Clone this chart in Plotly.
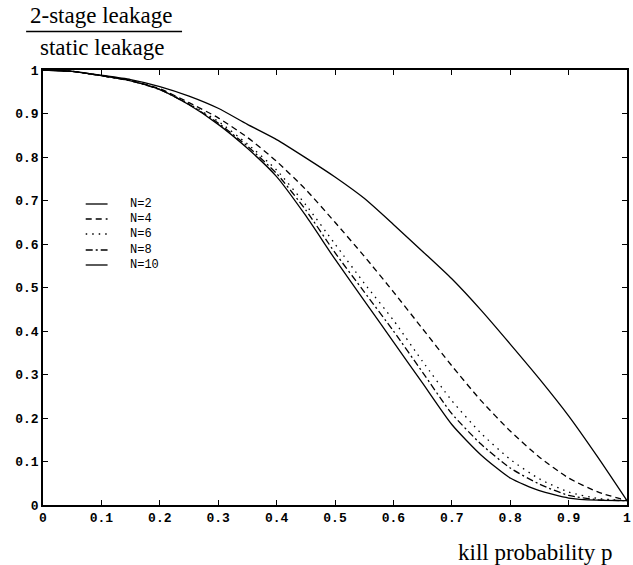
import plotly.graph_objects as go

# kill probability p
p = [0, 0.05, 0.1, 0.15, 0.2, 0.25, 0.3, 0.35, 0.4, 0.45, 0.5, 0.55, 0.6,
     0.65, 0.7, 0.75, 0.8, 0.85, 0.9, 0.95, 1.0]

n2 = [1, 0.997, 0.988, 0.978, 0.962, 0.94, 0.912, 0.875, 0.84, 0.798, 0.754,
      0.705, 0.645, 0.583, 0.52, 0.448, 0.37, 0.29, 0.205, 0.11, 0.01]
n4 = [1, 0.997, 0.987, 0.976, 0.957, 0.925, 0.89, 0.845, 0.79, 0.725, 0.65,
      0.572, 0.49, 0.405, 0.32, 0.24, 0.17, 0.11, 0.062, 0.03, 0.01]
n6 = [1, 0.997, 0.987, 0.975, 0.956, 0.922, 0.882, 0.83, 0.77, 0.69, 0.6,
      0.51, 0.425, 0.33, 0.24, 0.165, 0.105, 0.06, 0.03, 0.015, 0.01]
n8 = [1, 0.997, 0.987, 0.975, 0.955, 0.921, 0.878, 0.825, 0.762, 0.678, 0.58,
      0.49, 0.40, 0.305, 0.21, 0.14, 0.085, 0.048, 0.022, 0.012, 0.01]
n10 = [1, 0.997, 0.987, 0.975, 0.955, 0.92, 0.875, 0.82, 0.755, 0.665, 0.565,
       0.47, 0.375, 0.28, 0.185, 0.115, 0.062, 0.033, 0.016, 0.011, 0.01]

series_names = ["N=2", "N=4", "N=6", "N=8", "N=10"]
series_values = [n2, n4, n6, n8, n10]
dashes = ["solid", "6px,4px", "1.5px,5px", "7px,3px,2px,3px", "solid"]

tick_vals = [0, 0.1, 0.2, 0.3, 0.4, 0.5, 0.6, 0.7, 0.8, 0.9, 1]
tick_text = ["0", "0.1", "0.2", "0.3", "0.4", "0.5", "0.6", "0.7", "0.8", "0.9", "1"]

fig = go.Figure()
for name, vals, d in zip(series_names, series_values, dashes):
    fig.add_trace(go.Scatter(
        x=p, y=vals, mode="lines", name=name,
        line=dict(color="black", width=1.3, dash=d,
                  shape="spline", smoothing=0.6),
        showlegend=False))

axis_common = dict(
    showgrid=False, zeroline=False, showline=True, linecolor="black",
    linewidth=1.6, mirror="ticks", ticks="inside", ticklen=5,
    tickcolor="black", tickwidth=1,
    tickfont=dict(family="Liberation Mono", size=13, color="black", weight="bold"),
    tickvals=tick_vals, ticktext=tick_text, ticklabeloverflow="allow",
)
fig.update_xaxes(range=[0, 1], **axis_common)
fig.update_yaxes(range=[0, 1], **axis_common)

# manual legend (paper coords)
W, H = 633, 565
L, R, T, B = 43, 2, 70, 60
pw, ph = W - L - R, H - T - B
def px(xp):
    return (xp - L) / pw
def py(yp):
    return (H - B - yp) / ph

leg_y = [204, 219, 234, 250, 265]
shapes = []
annotations = []
for name, d, yy in zip(series_names, dashes, leg_y):
    shapes.append(dict(type="line", xref="paper", yref="paper",
                       x0=px(86), x1=px(108), y0=py(yy), y1=py(yy),
                       line=dict(color="black", width=1.3, dash=d)))
    annotations.append(dict(xref="paper", yref="paper", x=px(129), y=py(yy),
                            text=name, showarrow=False, xanchor="left",
                            yanchor="middle",
                            font=dict(family="Liberation Mono", size=12, color="black")))

# title fraction
annotations.append(dict(xref="paper", yref="paper", x=px(101), y=py(16),
                        text="2-stage leakage", showarrow=False,
                        xanchor="center", yanchor="middle",
                        font=dict(family="Liberation Serif", size=23, color="black")))
annotations.append(dict(xref="paper", yref="paper", x=px(103), y=py(47),
                        text="static leakage", showarrow=False,
                        xanchor="center", yanchor="middle",
                        font=dict(family="Liberation Serif", size=23, color="black")))
shapes.append(dict(type="line", xref="paper", yref="paper",
                   x0=px(26), x1=px(183), y0=py(31.5), y1=py(31.5),
                   line=dict(color="black", width=1.5)))
annotations.append(dict(xref="paper", yref="paper", x=px(619), y=py(552),
                        text="kill probability p", showarrow=False,
                        xanchor="right", yanchor="middle",
                        font=dict(family="Liberation Serif", size=23, color="black")))

fig.update_layout(
    width=W, height=H,
    margin=dict(l=L, r=R, t=T, b=B),
    paper_bgcolor="white", plot_bgcolor="white",
    shapes=shapes, annotations=annotations,
)

fig.write_html("out.html")
